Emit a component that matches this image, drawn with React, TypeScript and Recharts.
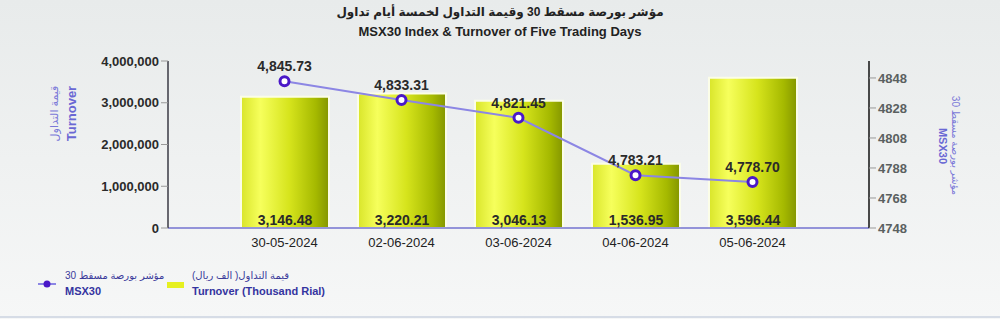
import React from "react";
import { ComposedChart, Bar, Line, XAxis, YAxis, LabelList } from "recharts";

const dates = ["30-05-2024", "02-06-2024", "03-06-2024", "04-06-2024", "05-06-2024"];
// turnover in thousand rial
const turnover = [3146.48, 3220.21, 3046.13, 1536.95, 3596.44];
const msx30 = [4845.73, 4833.31, 4821.45, 4783.21, 4778.7];
const leftTicks = [0, 1000000, 2000000, 3000000, 4000000];
const rightTicks = [4748, 4768, 4788, 4808, 4828, 4848];

const data = dates.map((d, i) => ({ date: d, turnover: turnover[i] * 1000, raw: turnover[i], msx: msx30[i] }));

const font = "'Liberation Sans', Arial, 'DejaVu Sans', sans-serif";
const fmt2 = (v: number) => v.toLocaleString("en-US", { minimumFractionDigits: 2, maximumFractionDigits: 2 });

const Dot = (p: any) => (
  <circle cx={p.cx} cy={p.cy} r={4.5} fill="#ffffff" stroke="#4a18c8" strokeWidth={3} />
);

export default function App() {
  return (
    <div
      style={{
        position: "absolute",
        left: 0,
        top: 0,
        width: 1000,
        height: 319,
        fontFamily: font,
        background: "linear-gradient(#e8ebeb, #f6f7f7)",
        overflow: "hidden",
      }}
    >
      <div style={{ position: "absolute", top: 5, width: 1000, textAlign: "center", fontSize: 12, fontWeight: "bold", color: "#222" }} dir="rtl">
        مؤشر بورصة مسقط 30 وقيمة التداول لخمسة أيام تداول
      </div>
      <div style={{ position: "absolute", top: 24, width: 1000, textAlign: "center", fontSize: 13, fontWeight: "bold", color: "#222" }}>
        MSX30 Index &amp; Turnover of Five Trading Days
      </div>

      <div style={{ position: "absolute", left: 4, top: 107, width: 100, textAlign: "center", transform: "rotate(-90deg)", fontSize: 11, color: "#7a78d8", whiteSpace: "nowrap" }} dir="rtl">
        قيمة التداول
      </div>
      <div style={{ position: "absolute", left: 21, top: 106, width: 100, textAlign: "center", transform: "rotate(-90deg)", fontSize: 13, fontWeight: "bold", color: "#6a68d4" }}>
        Turnover
      </div>

      <div style={{ position: "absolute", left: 895, top: 140, width: 120, textAlign: "center", transform: "rotate(90deg)", fontSize: 10, color: "#7a78d8", whiteSpace: "nowrap" }} dir="rtl">
        مؤشر بورصة مسقط 30
      </div>
      <div style={{ position: "absolute", left: 883, top: 140, width: 120, textAlign: "center", transform: "rotate(90deg)", fontSize: 11, fontWeight: "bold", color: "#6a68d4" }}>
        MSX30
      </div>

      <div style={{ position: "absolute", left: 0, top: 0 }}>
        <ComposedChart width={1000} height={319} data={data} margin={{ top: 61, right: 0, left: 0, bottom: 61 }}>
          <defs>
            <linearGradient id="barGrad" x1="0" y1="0" x2="1" y2="0">
              <stop offset="0%" stopColor="#d9e52a" />
              <stop offset="22%" stopColor="#f6ff5c" />
              <stop offset="55%" stopColor="#d6e41c" />
              <stop offset="85%" stopColor="#a5b900" />
              <stop offset="100%" stopColor="#849600" />
            </linearGradient>
          </defs>
          <XAxis
            dataKey="date"
            height={30}
            padding={{ left: 58, right: 58 }}
            axisLine={{ stroke: "#7373d0", strokeWidth: 1.5 }}
            tickLine={false}
            tick={{ fill: "#222", fontSize: 13, fontFamily: font }}
            tickMargin={4}
          />
          <YAxis
            yAxisId="left"
            width={168}
            domain={[0, 4000000]}
            ticks={leftTicks}
            interval={0}
            tickFormatter={(v: number) => v.toLocaleString("en-US")}
            axisLine={{ stroke: "#3a3a44", strokeWidth: 1.5 }}
            tickLine={{ stroke: "#999" }}
            tickSize={7}
            tick={{ fill: "#2a2a2a", fontSize: 13, fontWeight: "bold", fontFamily: font }}
          />
          <YAxis
            yAxisId="right"
            orientation="right"
            width={131}
            domain={[4748, 4859.3]}
            ticks={rightTicks}
            interval={0}
            axisLine={{ stroke: "#111", strokeWidth: 1.5 }}
            tickLine={{ stroke: "#999" }}
            tickSize={7}
            tick={{ fill: "#5a6060", fontSize: 13, fontWeight: "bold", fontFamily: font }}
          />
          <Bar yAxisId="left" dataKey="turnover" barSize={88} fill="url(#barGrad)" stroke="#fbfde8" strokeWidth={2} isAnimationActive={false}>
            <LabelList
              dataKey="raw"
              position="insideBottom"
              offset={3}
              formatter={(v: any) => fmt2(Number(v))}
              style={{ fill: "#2a2a2a", fontSize: 14, fontWeight: "bold", fontFamily: font }}
            />
          </Bar>
          <Line
            yAxisId="right"
            dataKey="msx"
            stroke="#8c86e4"
            strokeWidth={2}
            dot={<Dot />}
            activeDot={false}
            isAnimationActive={false}
          >
            <LabelList
              dataKey="msx"
              position="top"
              offset={10}
              formatter={(v: any) => fmt2(Number(v))}
              style={{ fill: "#2a2a2a", fontSize: 14, fontWeight: "bold", fontFamily: font }}
            />
          </Line>
        </ComposedChart>
      </div>

      <svg style={{ position: "absolute", left: 0, top: 0 }} width={1000} height={319}>
        <line x1={38} y1={284} x2={56} y2={284} stroke="#8c86e4" strokeWidth={2} />
        <circle cx={47} cy={284} r={3.5} fill="#4a18c8" />
        <rect x={167} y={282} width={17} height={6} fill="#e6f020" />
        <line x1={0} y1={317} x2={1000} y2={317} stroke="#d6dce6" strokeWidth={2} />
      </svg>
      <div style={{ position: "absolute", left: 65, top: 270, fontSize: 10, color: "#3a3a9a", whiteSpace: "nowrap" }} dir="rtl">
        مؤشر بورصة مسقط 30
      </div>
      <div style={{ position: "absolute", left: 65, top: 285, fontSize: 11, fontWeight: "bold", color: "#3434a0" }}>MSX30</div>
      <div style={{ position: "absolute", left: 192, top: 270, fontSize: 10, color: "#3a3a9a", whiteSpace: "nowrap" }} dir="rtl">
        قيمة التداول( الف ريال)
      </div>
      <div style={{ position: "absolute", left: 192, top: 285, fontSize: 11, fontWeight: "bold", color: "#3434a0" }}>
        Turnover (Thousand Rial)
      </div>
    </div>
  );
}
